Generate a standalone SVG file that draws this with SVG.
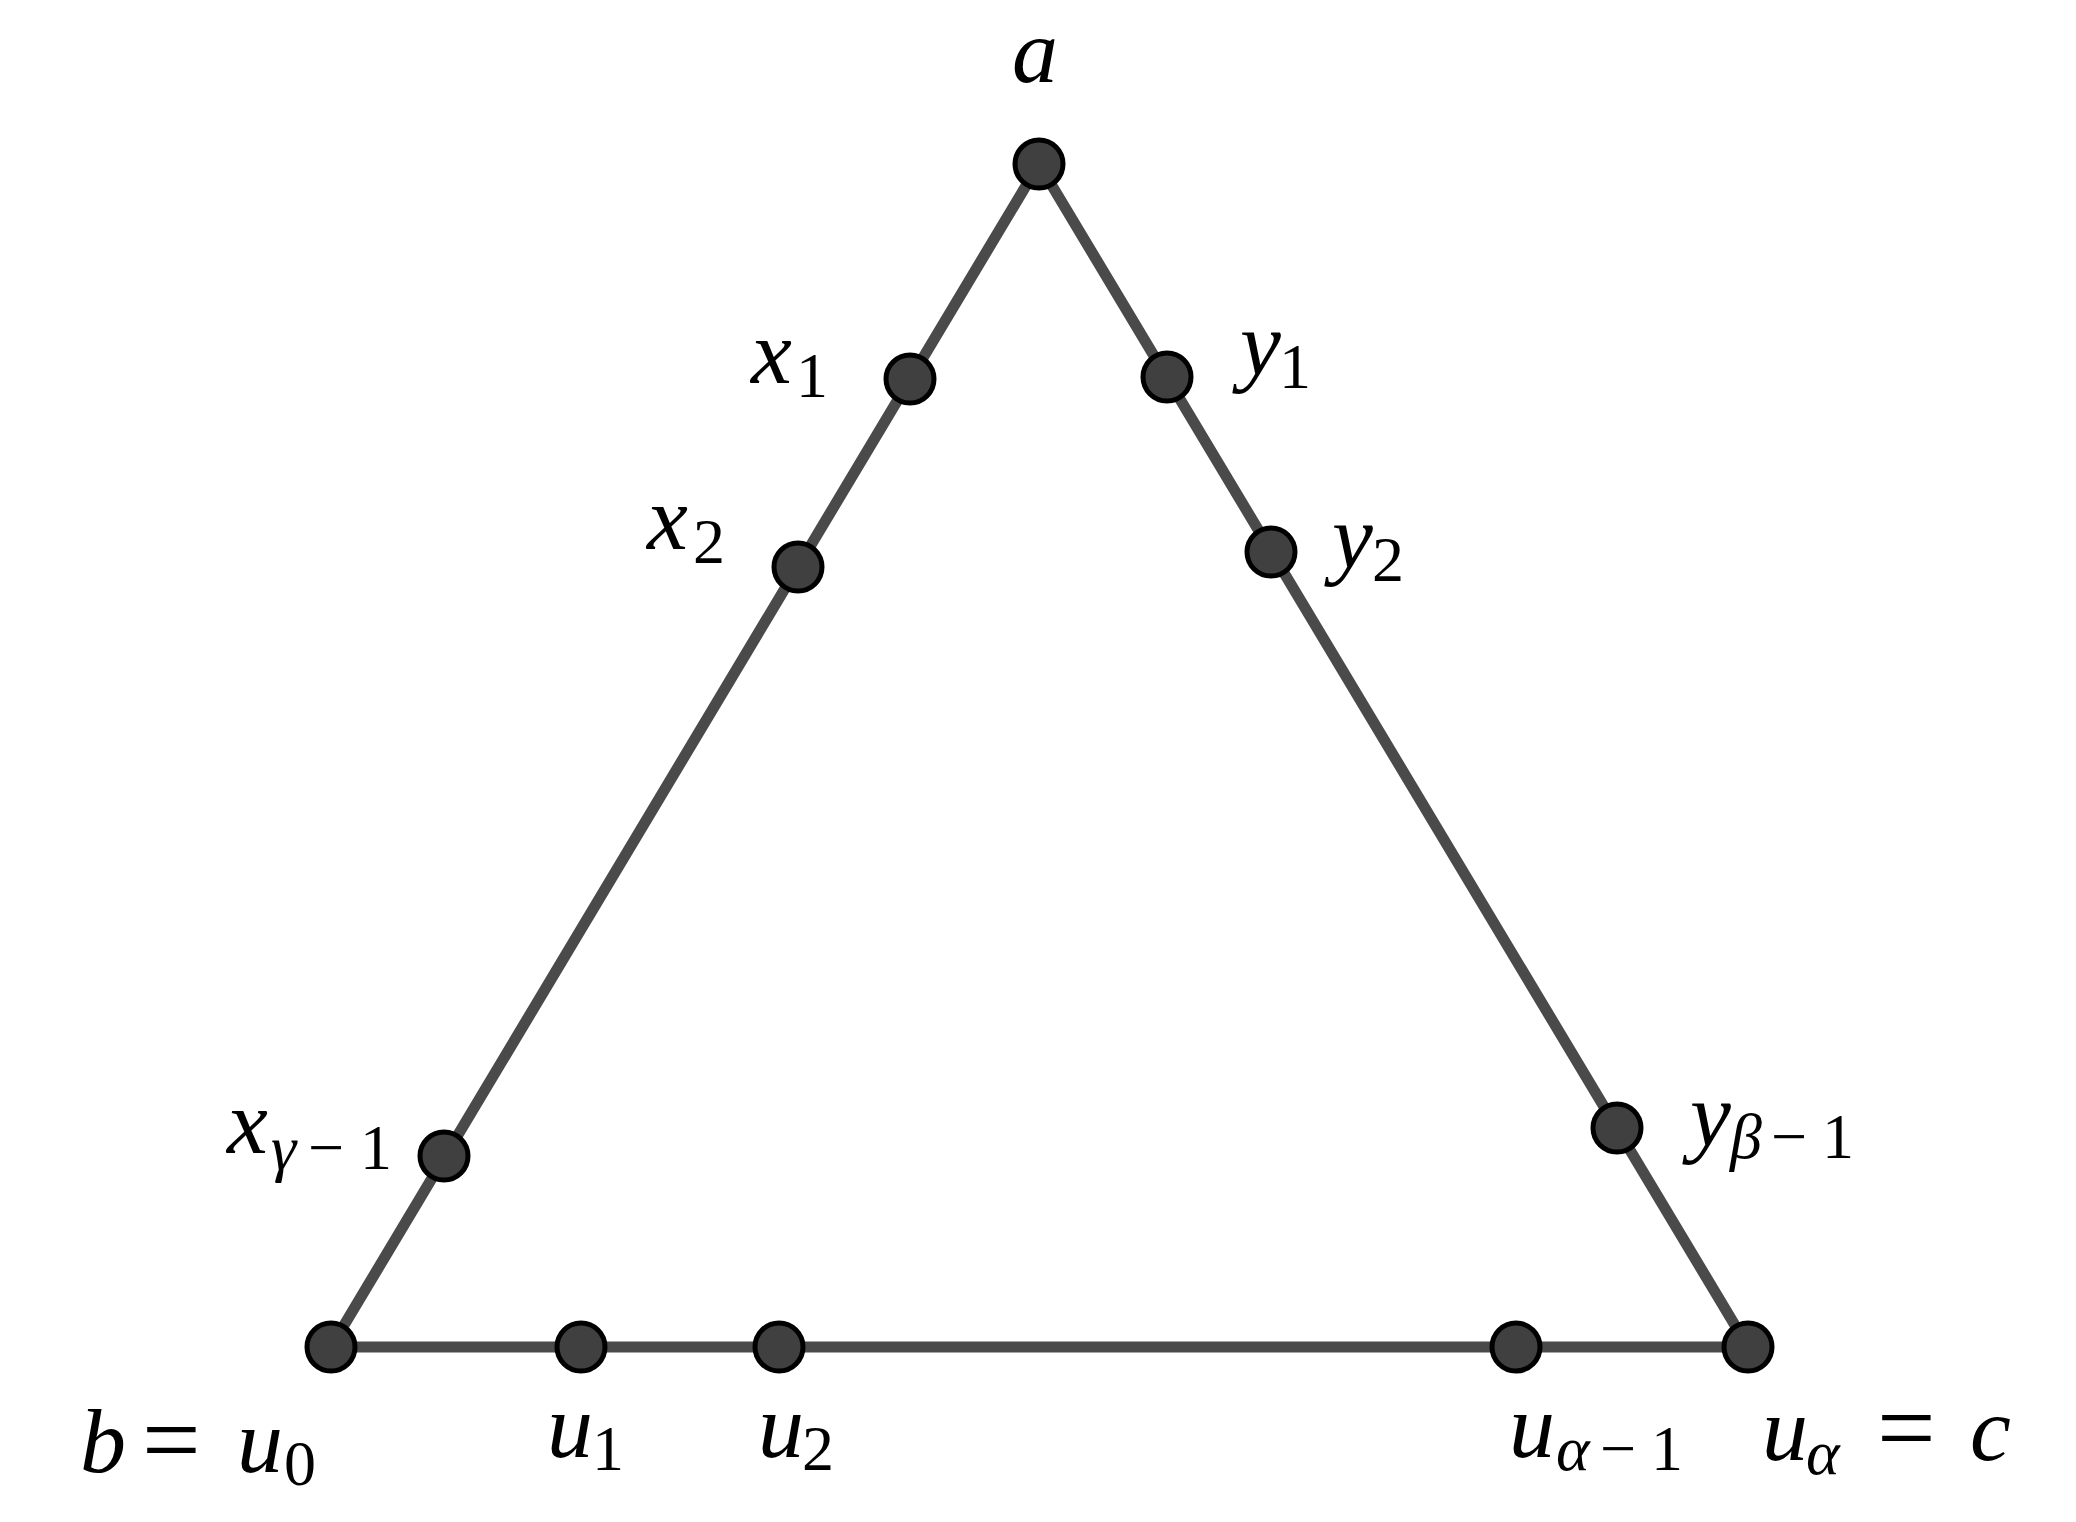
<svg xmlns="http://www.w3.org/2000/svg" width="2076" height="1522" viewBox="0 0 2076 1522">
<style>
.edge{stroke:#4a4a4a;stroke-width:11;fill:none;stroke-linecap:round}
.node{fill:#404040;stroke:#000;stroke-width:5}
text{font-family:'Liberation Serif','DejaVu Serif',serif;fill:#000}
.m{font-size:92px;font-style:italic}
.s{font-size:64px;font-style:normal}
.si{font-size:64px;font-style:italic}
.r{font-size:104px;font-style:normal}
</style>
<rect width="2076" height="1522" fill="#fff"/>
<g id="connectors">
<line class="edge" x1="1039" y1="164" x2="331" y2="1347"/>
<line class="edge" x1="1039" y1="164" x2="1748" y2="1347"/>
<line class="edge" x1="331" y1="1347" x2="1748" y2="1347"/>
</g>
<g id="node-a"><circle class="node" cx="1039" cy="164" r="24"/><text class="m" x="1035" y="82" text-anchor="middle">a</text></g>
<g id="node-x1"><circle class="node" cx="910" cy="379" r="24"/><text><tspan class="m" x="751" y="383">x</tspan><tspan class="s" x="796" y="397">1</tspan></text></g>
<g id="node-x2"><circle class="node" cx="798" cy="567" r="24"/><text><tspan class="m" x="647" y="549">x</tspan><tspan class="s" x="693" y="563">2</tspan></text></g>
<g id="node-xg"><circle class="node" cx="444" cy="1156" r="24"/><text><tspan class="m" x="227" y="1153">x</tspan><tspan class="si" x="271" y="1169">γ</tspan><tspan class="s" x="308" y="1169">−</tspan><tspan class="s" x="360" y="1169">1</tspan></text></g>
<g id="node-b"><circle class="node" cx="331" cy="1347" r="24"/><text><tspan class="m" x="80" y="1472">b</tspan><tspan class="r" x="142" y="1475">=</tspan><tspan class="m" x="237" y="1472">u</tspan><tspan class="s" x="284" y="1485">0</tspan></text></g>
<g id="node-u1"><circle class="node" cx="581" cy="1347" r="24"/><text><tspan class="m" x="547" y="1457">u</tspan><tspan class="s" x="592" y="1470">1</tspan></text></g>
<g id="node-u2"><circle class="node" cx="779" cy="1347" r="24"/><text><tspan class="m" x="758" y="1457">u</tspan><tspan class="s" x="802" y="1470">2</tspan></text></g>
<g id="node-ua1"><circle class="node" cx="1516" cy="1347" r="24"/><text><tspan class="m" x="1509" y="1457">u</tspan><tspan class="si" x="1556" y="1470">α</tspan><tspan class="s" x="1600" y="1470">−</tspan><tspan class="s" x="1651" y="1470">1</tspan></text></g>
<g id="node-c"><circle class="node" cx="1748" cy="1347" r="24"/><text><tspan class="m" x="1762" y="1460">u</tspan><tspan class="si" x="1806" y="1474">α</tspan><tspan class="r" x="1877" y="1463">=</tspan><tspan class="m" x="1970" y="1460">c</tspan></text></g>
<g id="node-y1"><circle class="node" cx="1167" cy="377" r="24"/><text><tspan class="m" x="1240" y="375">y</tspan><tspan class="s" x="1279" y="388">1</tspan></text></g>
<g id="node-y2"><circle class="node" cx="1271" cy="552" r="24"/><text><tspan class="m" x="1332" y="568">y</tspan><tspan class="s" x="1372" y="581">2</tspan></text></g>
<g id="node-yb"><circle class="node" cx="1617" cy="1128" r="24"/><text><tspan class="m" x="1690" y="1146">y</tspan><tspan class="si" x="1730" y="1158">β</tspan><tspan class="s" x="1771" y="1158">−</tspan><tspan class="s" x="1822" y="1158">1</tspan></text></g>
</svg>
